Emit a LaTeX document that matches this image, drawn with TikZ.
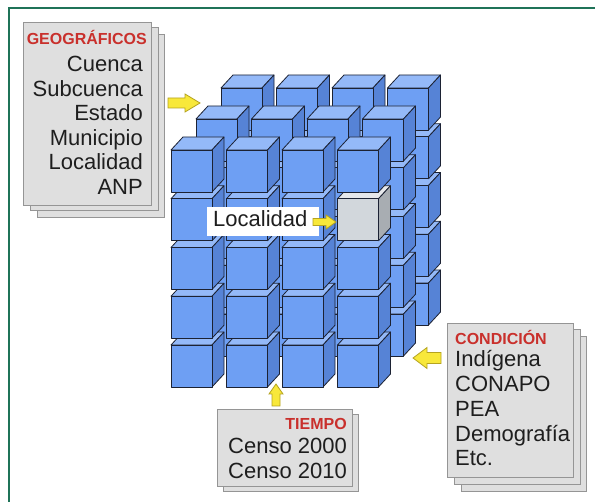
\documentclass[tikz,border=0pt]{standalone}
\usepackage{fontspec}
\setmainfont{Liberation Sans}
\definecolor{cubefront}{HTML}{6E9FF3}
\definecolor{cubetop}{HTML}{94B9F8}
\definecolor{cubeside}{HTML}{5683D6}
\definecolor{cubeedge}{HTML}{1C2233}
\definecolor{grayfront}{HTML}{D2D7DC}
\definecolor{graytop}{HTML}{E6E8EB}
\definecolor{grayside}{HTML}{A8ADB2}
\definecolor{pagefill}{HTML}{DFDFDF}
\definecolor{pageedge}{HTML}{959595}
\definecolor{titlered}{HTML}{C9302C}
\definecolor{textdark}{HTML}{1E1E1E}
\definecolor{arrowyellow}{HTML}{F8E83A}
\definecolor{arrowedge}{HTML}{B5A320}
\definecolor{framegreen}{HTML}{1F7358}
\newcommand\drawcube[5]{%
  \filldraw[cubeline, fill=#4] (#1,#2) -- ++(12,-13) -- ++(41,0) -- ++(-12,13) -- cycle;
  \filldraw[cubeline, fill=#5] (#1+41,#2) -- ++(12,-13) -- ++(0,42) -- ++(-12,13) -- cycle;
  \filldraw[cubeline, fill=#3] (#1,#2) rectangle ++(41,42);
}
\newcommand\blockarrow[7]{%
  \begin{scope}[shift={(#1,#2)}, rotate=#3]
    \filldraw[yarr] (0,-#6) -- (#4-#5,-#6) -- (#4-#5,-#7) -- (#4,0) -- (#4-#5,#7) -- (#4-#5,#6) -- (0,#6) -- cycle;
  \end{scope}
}
\begin{document}
\begin{tikzpicture}[x=1pt,y=-1pt,
  cubeline/.style={draw=cubeedge, line width=0.8pt, line join=round},
  page/.style={fill=pagefill, draw=pageedge, line width=1pt},
  frontpage/.style={page, inner sep=0pt, anchor=north west},
  ttl/.style={font=\fontsize{16}{16}\selectfont\bfseries, text=titlered, inner sep=0pt},
  txt/.style={font=\fontsize{22}{22}\selectfont, text=textdark, inner sep=0pt},
  yarr/.style={fill=arrowyellow, draw=arrowedge, line width=0.8pt, line join=miter},
  frameline/.style={draw=framegreen, line width=2pt}
]
\useasboundingbox[fill=white] (0,0) rectangle (595,502);
\draw[frameline] (9,502) -- (9,8) -- (595,8);

% cube grid: back, middle, front layers
\foreach \ox/\oy/\L in {221/88/0, 196/119/1, 171/150/2} {
  \foreach \r in {4,3,2,1,0} {
    \foreach \c in {0,1,2,3} {
      \pgfmathsetmacro\cx{\ox+55.5*\c}
      \pgfmathsetmacro\cy{\oy+48.75*\r}
      \pgfmathtruncatemacro\isg{(\L==2)&&(\r==1)&&(\c==3)}
      \ifnum\isg=1
        \drawcube{\cx}{\cy}{grayfront}{graytop}{grayside}
      \else
        \drawcube{\cx}{\cy}{cubefront}{cubetop}{cubeside}
      \fi
    }
  }
}

% Localidad label
\node[fill=white, font=\fontsize{22}{22}\selectfont, text=textdark, inner xsep=6pt, inner ysep=3pt,
      text width=100pt, text height=17pt, text depth=6pt, anchor=base west] (loclabel) at (207,227) {Localidad};
\blockarrow{313}{222}{0}{23}{10}{3.5}{7}

% GEOGRAFICOS stack
\filldraw[page] (37,35) rectangle (164,218);
\filldraw[page] (30,28) rectangle (158,211);
\node[frontpage, minimum width=128pt, minimum height=183pt] (geo) at (23,22) {};
\node[ttl, anchor=base east] (geotitle) at (147,45) {GEOGRÁFICOS};
\foreach \t [count=\i] in {Cuenca,Subcuenca,Estado,Municipio,Localidad,ANP} {
  \node[txt, anchor=base east] (geo\i) at (143,{72+24.5*(\i-1)}) {\t};
}
\blockarrow{168}{103}{0}{32}{15}{5}{9}

% TIEMPO stack
\filldraw[page] (223,415) rectangle (358,492);
\node[frontpage, minimum width=135pt, minimum height=77pt] (tiempo) at (217,409) {};
\node[ttl, anchor=base east] (tiempotitle) at (347,430) {TIEMPO};
\node[txt, anchor=base east] (censoA) at (347,454) {Censo 2000};
\node[txt, anchor=base east] (censoB) at (347,479) {Censo 2010};
\blockarrow{276}{406}{90}{22}{10}{4}{7}

% CONDICION stack
\filldraw[page] (461,337) rectangle (586,492);
\filldraw[page] (454,330) rectangle (580,485);
\node[frontpage, minimum width=126pt, minimum height=154pt] (cond) at (447,323) {};
\node[ttl, anchor=base west] (condtitle) at (455,345) {CONDICIÓN};
\foreach \t [count=\i] in {Indígena,CONAPO,PEA,Demografía,Etc.} {
  \node[txt, anchor=base west] (cond\i) at (455,{367+24.7*(\i-1)}) {\t};
}
\blockarrow{441}{358}{180}{28}{14}{5.5}{10.5}
\end{tikzpicture}
\end{document}
